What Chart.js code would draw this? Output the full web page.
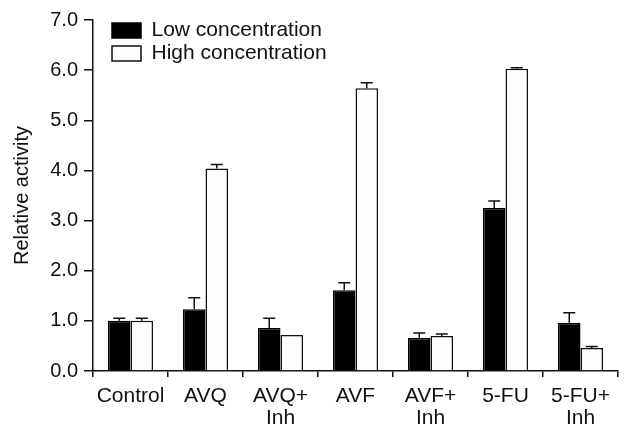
<!DOCTYPE html>
<html>
<head>
  <title>Relative activity</title>
  <script src="https://cdn.jsdelivr.net/npm/chart.js@4.4.1/dist/chart.umd.min.js"></script>
  <style>
    html, body { margin: 0; padding: 0; background: #fff; }
  </style>
</head>
<body>
  <canvas id="chart" width="629" height="430"></canvas>

  <script>
    // datos
    const categories = ['Control', 'AVQ', ['AVQ+', 'Inh'], 'AVF', ['AVF+', 'Inh'], '5-FU', ['5-FU+', 'Inh']];
    const seriesNames = ['Low concentration', 'High concentration'];
    const lowValues = [1.00, 1.23, 0.86, 1.61, 0.66, 3.25, 0.96];
    const lowErrors = [0.05, 0.23, 0.19, 0.15, 0.10, 0.14, 0.20];
    const highValues = [1.00, 4.04, 0.72, 5.64, 0.70, 6.03, 0.46];
    const highErrors = [0.05, 0.08, 0.00, 0.11, 0.04, 0.02, 0.03];
    const yMin = 0;
    const yMax = 7;
    const yStep = 1;

    const font = 'Liberation Sans, Arial, sans-serif';

    // barras de error (solo hacia arriba)
    const errorBars = {
      id: 'errorBars',
      afterDatasetsDraw(chart) {
        const ctx = chart.ctx;
        const yScale = chart.scales.y;
        chart.data.datasets.forEach((ds, i) => {
          const meta = chart.getDatasetMeta(i);
          meta.data.forEach((bar, j) => {
            const err = ds.errors[j];
            if (!err) return;
            const top = yScale.getPixelForValue(ds.data[j] + err);
            ctx.save();
            ctx.strokeStyle = '#111';
            ctx.lineWidth = 1.5;
            ctx.beginPath();
            ctx.moveTo(bar.x, bar.y);
            ctx.lineTo(bar.x, top);
            ctx.moveTo(bar.x - 6, top);
            ctx.lineTo(bar.x + 6, top);
            ctx.stroke();
            ctx.restore();
          });
        });
      }
    };

    // mover la leyenda dentro del area, arriba a la izquierda
    const legendShift = {
      id: 'legendShift',
      afterLayout(chart) {
        const lg = chart.legend;
        lg.left += 17;
        lg.right += 17;
        lg.top += 18;
        lg.bottom += 18;
      }
    };

    new Chart(document.getElementById('chart'), {
      type: 'bar',
      data: {
        labels: categories,
        datasets: [
          {
            label: seriesNames[0],
            data: lowValues,
            errors: lowErrors,
            backgroundColor: '#000',
            borderColor: '#000',
            borderWidth: 1.5,
            categoryPercentage: 0.6,
            barPercentage: 1.0,
          },
          {
            label: seriesNames[1],
            data: highValues,
            errors: highErrors,
            backgroundColor: '#fdfdfd',
            borderColor: '#111',
            borderWidth: 1.5,
            categoryPercentage: 0.6,
            barPercentage: 1.0,
          },
        ],
      },
      options: {
        responsive: false,
        animation: false,
        layout: { padding: { top: 20, right: 11, left: 0, bottom: 0 } },
        plugins: {
          tooltip: { enabled: false },
          legend: {
            position: 'chartArea',
            align: 'start',
            labels: {
              boxWidth: 29,
              boxHeight: 15,
              padding: 2,
              color: '#111',
              font: { family: font, size: 21 },
            },
          },
        },
        scales: {
          x: {
            grid: {
              offset: true,
              drawOnChartArea: false,
              drawTicks: true,
              tickLength: 6,
              color: '#111',
              lineWidth: 1.5,
            },
            border: { display: true, color: '#111', width: 1.5 },
            ticks: {
              color: '#111',
              padding: 8,
              maxRotation: 0,
              autoSkip: false,
              font: { family: font, size: 21, lineHeight: 1.05 },
            },
            afterFit(scale) { scale.height = 59; },
          },
          y: {
            min: yMin,
            max: yMax,
            grid: {
              drawOnChartArea: false,
              drawTicks: true,
              tickLength: 9,
              color: '#111',
              lineWidth: 1.5,
            },
            border: { display: true, color: '#111', width: 1.5 },
            ticks: {
              stepSize: yStep,
              color: '#111',
              padding: 6,
              font: { family: font, size: 20 },
              callback: (v) => v.toFixed(1),
            },
            title: {
              display: true,
              text: 'Relative activity',
              color: '#111',
              padding: { top: 10, bottom: 0 },
              font: { family: font, size: 20, lineHeight: 1.2 },
            },
            afterFit(scale) { scale.width = 93; },
          },
        },
      },
      plugins: [errorBars, legendShift],
    });
  </script>
</body>
</html>
